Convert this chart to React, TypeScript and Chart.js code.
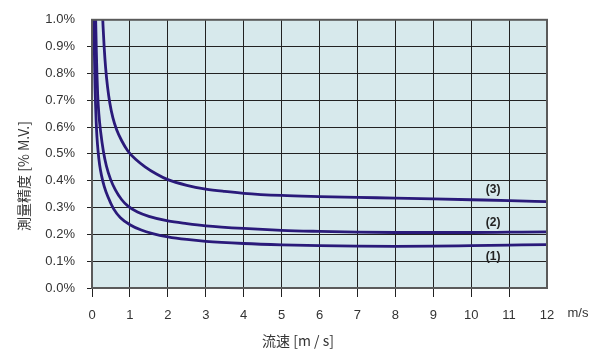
import React, { useEffect, useRef } from "react";
import { Chart, registerables } from "chart.js";

Chart.register(...registerables);

// curve (1)
const speed1 = [0.045, 0.05, 0.06, 0.07, 0.08, 0.095, 0.11, 0.13, 0.16, 0.2, 0.25, 0.32, 0.42, 0.57, 0.75, 1.0, 1.3, 1.6, 2, 2.5, 3, 4, 5, 6, 7, 8, 9, 10, 11, 12];
const acc1 = [1.05, 1.0, 0.9, 0.82, 0.75, 0.68, 0.62, 0.565, 0.51, 0.46, 0.42, 0.38, 0.34, 0.295, 0.262, 0.236, 0.216, 0.203, 0.191, 0.181, 0.174, 0.166, 0.161, 0.158, 0.156, 0.155, 0.156, 0.158, 0.16, 0.162];
// curve (2)
const speed2 = [0.09, 0.1, 0.115, 0.13, 0.15, 0.18, 0.23, 0.3, 0.38, 0.49, 0.62, 0.78, 0.95, 1.2, 1.5, 2, 2.5, 3, 4, 5, 6, 7, 8, 9, 10, 11, 12];
const acc2 = [1.05, 0.98, 0.88, 0.8, 0.72, 0.65, 0.58, 0.51, 0.455, 0.405, 0.365, 0.33, 0.305, 0.283, 0.267, 0.25, 0.24, 0.232, 0.222, 0.215, 0.211, 0.208, 0.207, 0.207, 0.207, 0.208, 0.209];
// curve (3)
const speed3 = [0.27, 0.29, 0.32, 0.36, 0.41, 0.47, 0.55, 0.65, 0.78, 0.95, 1.15, 1.4, 1.7, 2, 2.5, 3, 3.5, 4, 5, 6, 7, 8, 9, 10, 11, 12];
const acc3 = [1.05, 0.98, 0.9, 0.82, 0.75, 0.69, 0.635, 0.59, 0.55, 0.51, 0.48, 0.452, 0.425, 0.404, 0.383, 0.369, 0.36, 0.353, 0.345, 0.341, 0.338, 0.335, 0.332, 0.329, 0.326, 0.322];

const curveLabels = ["(1)", "(2)", "(3)"];
const curveLabelX = [10.58, 10.58, 10.58];
const curveLabelY = [0.118, 0.243, 0.365];

const xTitle = "流速 [m / s]";
const yTitle = "測量精度 [% M.V.]";
const xUnit = "m/s";

const LINE = "#2a1a7a";
const TICK_FONT = "'Liberation Sans', Arial, sans-serif";

function pts(xs: number[], ys: number[]) {
  return xs.map((x, i) => ({ x, y: ys[i] }));
}

const decor = {
  id: "decor",
  beforeDraw(chart: any) {
    const { ctx, chartArea: a } = chart;
    ctx.save();
    ctx.fillStyle = "#d7e9ec";
    ctx.fillRect(a.left, a.top, a.right - a.left, a.bottom - a.top);
    ctx.restore();
  },
  afterDraw(chart: any) {
    const { ctx, chartArea: a, scales } = chart;
    ctx.save();
    ctx.strokeStyle = "#5a5a5a";
    ctx.lineWidth = 2;
    ctx.strokeRect(a.left, a.top, a.right - a.left, a.bottom - a.top);

    ctx.fillStyle = "#222";
    ctx.font = "bold 12px " + TICK_FONT;
    ctx.textAlign = "center";
    ctx.textBaseline = "middle";
    curveLabels.forEach((t, i) => {
      ctx.fillText(t, scales.x.getPixelForValue(curveLabelX[i]), scales.y.getPixelForValue(curveLabelY[i]));
    });

    ctx.fillStyle = "#333";
    ctx.font = "13px " + TICK_FONT;
    ctx.fillText(xUnit, 578, 313);

    ctx.font = "14px 'Noto Sans CJK JP', 'Liberation Sans', sans-serif";
    ctx.fillText(xTitle, 298, 341);

    ctx.translate(24, 176);
    ctx.rotate(-Math.PI / 2);
    ctx.fillText(yTitle, 0, 0);
    ctx.restore();
  },
};

export default function App() {
  const ref = useRef<HTMLCanvasElement>(null);
  useEffect(() => {
    document.body.style.margin = "0";
    const ds = (xs: number[], ys: number[]) => ({
      data: pts(xs, ys),
      borderColor: LINE,
      borderWidth: 2.8,
      pointRadius: 0,
      showLine: true,
      fill: false,
      cubicInterpolationMode: "monotone" as const,
    });
    const chart = new Chart(ref.current!, {
      type: "scatter",
      data: { datasets: [ds(speed1, acc1), ds(speed2, acc2), ds(speed3, acc3)] },
      options: {
        animation: false,
        responsive: false,
        layout: { padding: { top: 17, right: 53, left: 0, bottom: 0 } },
        plugins: { legend: { display: false }, tooltip: { enabled: false } },
        scales: {
          x: {
            type: "linear",
            min: 0,
            max: 12,
            afterFit: (s: any) => { s.height = 64; },
            ticks: { stepSize: 1, padding: 11, color: "#333", font: { family: TICK_FONT, size: 13 } },
            grid: {
              color: (c: any) => (c.tick && c.tick.value === 12 ? "rgba(0,0,0,0)" : "#222"),
              lineWidth: 1,
              tickLength: 9,
            },
            border: { display: false },
          },
          y: {
            min: 0,
            max: 1,
            afterFit: (s: any) => { s.width = 92; },
            ticks: {
              stepSize: 0.1,
              padding: 12,
              color: "#333",
              font: { family: TICK_FONT, size: 13 },
              callback: (v: any) => Number(v).toFixed(1) + "%",
            },
            grid: {
              color: (c: any) => (c.tick && Math.abs(c.tick.value - 1) < 1e-9 ? "rgba(0,0,0,0)" : "#222"),
              lineWidth: 1,
              tickLength: 5,
            },
            border: { display: false },
          },
        },
      },
      plugins: [decor],
    });
    return () => chart.destroy();
  }, []);
  return (
    <div style={{ width: 600, height: 352 }}>
      <canvas ref={ref} width={600} height={352} />
    </div>
  );
}
